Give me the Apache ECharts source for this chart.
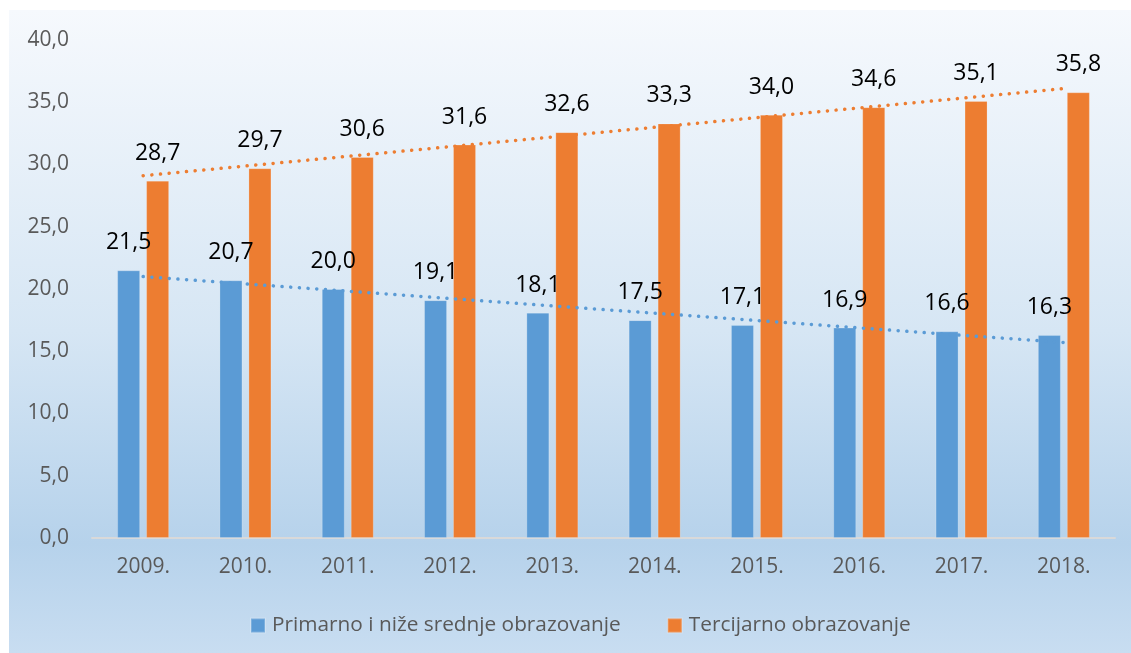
<!DOCTYPE html>
<html>
<head>
<meta charset="utf-8">
<script src="https://cdn.jsdelivr.net/npm/echarts@6/dist/echarts.min.js"></script>
<style>
  html, body { margin: 0; padding: 0; background: #fff; }
  #chart { width: 1131px; height: 653px; }
</style>
</head>
<body>
<div id="chart"></div>
<script>
// podaci
const years = ['2009.', '2010.', '2011.', '2012.', '2013.', '2014.', '2015.', '2016.', '2017.', '2018.'];
const primarno = [21.5, 20.7, 20.0, 19.1, 18.1, 17.5, 17.1, 16.9, 16.6, 16.3];
const tercijarno = [28.7, 29.7, 30.6, 31.6, 32.6, 33.3, 34.0, 34.6, 35.1, 35.8];
// krajnje tocke linija trenda (procitano sa slike)
const trendPrimarno = [21.0, 15.7];
const trendTercijarno = [29.1, 36.1];
const yTicks = [0, 5, 10, 15, 20, 25, 30, 35, 40];

const font = 'Open Sans';
const fmt = (v) => Number(v).toFixed(1).replace('.', ',');

const myChart = echarts.init(document.getElementById('chart'));

const barLabel = {
  show: true,
  position: 'top',
  distance: 16,
  color: '#000',
  fontFamily: font,
  fontSize: 23,
  formatter: (p) => fmt(p.value)
};

const dots = (color) => ({
  color: color,
  width: 3.5,
  type: [0.1, 8.6],
  cap: 'round'
});

let option = {
  animation: false,
  graphic: [
    {
      type: 'rect',
      z: -10,
      silent: true,
      shape: { x: 9, y: 10, width: 1122, height: 643 },
      style: {
        fill: new echarts.graphic.LinearGradient(0, 0, 0, 1, [
          { offset: 0, color: '#f6f9fd' },
          { offset: 0.5, color: '#d6e6f4' },
          { offset: 0.83, color: '#b6d2eb' },
          { offset: 1, color: '#c8ddf1' }
        ])
      }
    }
  ],
  grid: {
    left: 92,
    right: 16,
    top: 40,
    bottom: 115,
    containLabel: false
  },
  legend: {
    top: 610,
    left: 245,
    itemWidth: 14,
    itemHeight: 14,
    itemGap: 46,
    icon: 'rect',
    data: ['Primarno i niže srednje obrazovanje', 'Tercijarno obrazovanje'],
    textStyle: { color: '#595959', fontFamily: font, fontSize: 20.8, padding: [0, 0, 0, 2] }
  },
  xAxis: {
    type: 'category',
    data: years,
    axisLine: { lineStyle: { color: '#d9d9d9', width: 2 } },
    axisTick: { show: false },
    axisLabel: { color: '#595959', fontFamily: font, fontSize: 21, margin: 19 }
  },
  yAxis: {
    type: 'value',
    min: yTicks[0],
    max: yTicks[yTicks.length - 1],
    interval: 5,
    splitLine: { show: false },
    axisLine: { show: false },
    axisTick: { show: false },
    axisLabel: { color: '#595959', fontFamily: font, fontSize: 21, margin: 23, formatter: fmt }
  },
  series: [
    {
      name: 'Primarno i niže srednje obrazovanje',
      type: 'bar',
      data: primarno,
      barWidth: 23,
      barGap: '26%',
      itemStyle: { color: '#5b9bd5', borderColor: 'rgba(255,255,255,0.2)', borderWidth: 1 },
      label: barLabel
    },
    {
      name: 'Tercijarno obrazovanje',
      type: 'bar',
      data: tercijarno,
      barWidth: 23,
      itemStyle: { color: '#ed7d31', borderColor: 'rgba(255,255,255,0.2)', borderWidth: 1 },
      label: barLabel
    },
    {
      name: 'trend1',
      type: 'line',
      z: 5,
      symbol: 'none',
      data: [[years[0], trendPrimarno[0]], [years[years.length - 1], trendPrimarno[1]]],
      lineStyle: dots('#5b9bd5')
    },
    {
      name: 'trend2',
      type: 'line',
      z: 5,
      symbol: 'none',
      data: [[years[0], trendTercijarno[0]], [years[years.length - 1], trendTercijarno[1]]],
      lineStyle: dots('#ed7d31')
    }
  ]
};

myChart.setOption(option);
</script>
</body>
</html>
